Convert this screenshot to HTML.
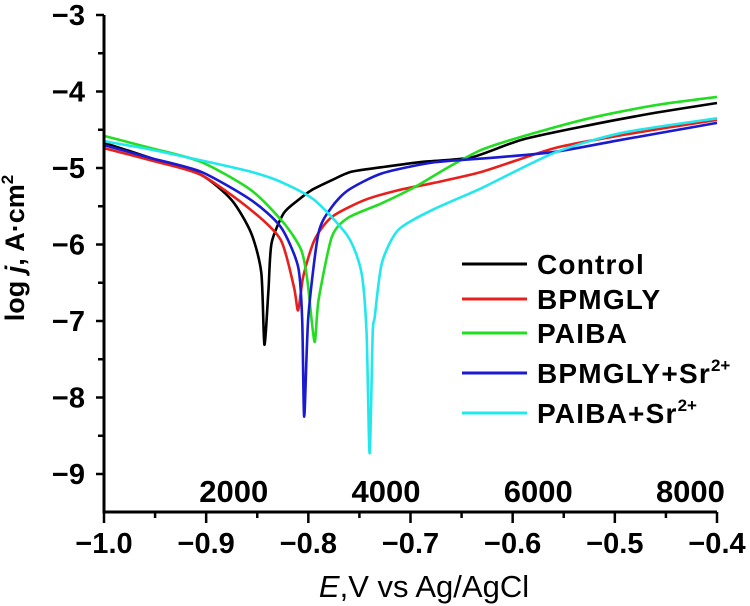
<!DOCTYPE html>
<html><head><meta charset="utf-8"><style>
body{margin:0;background:#fff;}
svg{display:block;font-family:"Liberation Sans",Arial,sans-serif;font-weight:bold;}
</style></head><body>
<svg id="chart" width="750" height="606" viewBox="0 0 750 606"></svg>
<script>
const xTicks=[-1.0,-0.9,-0.8,-0.7,-0.6,-0.5,-0.4];
const yTicks=[-3,-4,-5,-6,-7,-8,-9];
const topLabels=["2000","4000","6000","8000"];
const seriesNames=["Control","BPMGLY","PAIBA","BPMGLY+Sr","PAIBA+Sr"];
const seriesColors=["#000000","#e8201c","#22dd22","#1a1ad0","#22e8ee"];
const controlE=[-1.0,-0.954,-0.905,-0.875,-0.856,-0.846,-0.843,-0.839,-0.836,-0.824,-0.810,-0.797,-0.777,-0.758,-0.728,-0.689,-0.640,-0.591,-0.525,-0.461,-0.4];
const controlJ=[-4.67,-4.87,-5.09,-5.42,-5.85,-6.37,-7.31,-6.59,-5.98,-5.59,-5.42,-5.29,-5.16,-5.05,-4.99,-4.92,-4.86,-4.63,-4.44,-4.28,-4.15];
const bpmglyE=[-1.0,-0.954,-0.905,-0.856,-0.827,-0.814,-0.810,-0.805,-0.794,-0.777,-0.745,-0.712,-0.679,-0.630,-0.559,-0.493,-0.4];
const bpmglyJ=[-4.74,-4.90,-5.09,-5.55,-5.94,-6.56,-6.86,-6.42,-5.94,-5.64,-5.42,-5.29,-5.20,-5.05,-4.74,-4.57,-4.37];
const paibaE=[-1.0,-0.954,-0.905,-0.856,-0.824,-0.807,-0.801,-0.794,-0.790,-0.777,-0.761,-0.728,-0.696,-0.663,-0.630,-0.591,-0.525,-0.461,-0.4];
const paibaJ=[-4.58,-4.74,-4.92,-5.29,-5.72,-6.07,-6.46,-7.27,-6.73,-5.90,-5.65,-5.46,-5.25,-4.99,-4.76,-4.59,-4.35,-4.18,-4.07];
const bsrE=[-1.0,-0.954,-0.905,-0.856,-0.827,-0.810,-0.806,-0.804,-0.800,-0.790,-0.777,-0.761,-0.728,-0.679,-0.624,-0.559,-0.493,-0.4];
const bsrJ=[-4.70,-4.87,-5.05,-5.42,-5.77,-6.29,-6.99,-8.25,-6.95,-5.85,-5.51,-5.29,-5.07,-4.93,-4.87,-4.79,-4.63,-4.41];
const psrE=[-1.0,-0.954,-0.905,-0.856,-0.827,-0.794,-0.761,-0.748,-0.743,-0.740,-0.737,-0.735,-0.728,-0.712,-0.679,-0.630,-0.559,-0.493,-0.4];
const psrJ=[-4.65,-4.76,-4.90,-5.05,-5.18,-5.42,-5.90,-6.37,-7.16,-8.73,-7.16,-6.95,-6.24,-5.81,-5.55,-5.26,-4.80,-4.54,-4.35];
const topLabelE=[-0.873,-0.724,-0.575,-0.426];
const allE=[controlE,bpmglyE,paibaE,bsrE,psrE];
const allJ=[controlJ,bpmglyJ,paibaJ,bsrJ,psrJ];

const X0=104,X1=717,YT=15,PPU=76.5,YB=512;
const xs=v=>X0+(v+1.0)/0.6*(X1-X0);
const ys=v=>YT+(-3-v)*PPU;
const svg=document.getElementById('chart');
const NS='http://www.w3.org/2000/svg';
function mk(tag,attrs,parent){const e=document.createElementNS(NS,tag);for(const k in attrs)e.setAttribute(k,attrs[k]);(parent||svg).appendChild(e);return e;}
function smooth(pts){
  let d='M'+pts[0][0].toFixed(1)+' '+pts[0][1].toFixed(1);
  for(let i=0;i<pts.length-1;i++){
    const p0=pts[Math.max(0,i-1)],p1=pts[i],p2=pts[i+1],p3=pts[Math.min(pts.length-1,i+2)];
    const t=0.12;
    const c1=[p1[0]+(p2[0]-p0[0])*t,p1[1]+(p2[1]-p0[1])*t];
    const c2=[p2[0]-(p3[0]-p1[0])*t,p2[1]-(p3[1]-p1[1])*t];
    d+=` C${c1[0].toFixed(1)} ${c1[1].toFixed(1)} ${c2[0].toFixed(1)} ${c2[1].toFixed(1)} ${p2[0].toFixed(1)} ${p2[1].toFixed(1)}`;
  }
  return d;
}
allE.forEach((E,i)=>{
  const pts=E.map((e,k)=>[xs(e),ys(allJ[i][k])]);
  const p=mk('path',{d:smooth(pts),fill:'none',stroke:seriesColors[i],'stroke-width':2.6,'stroke-linejoin':'round'});
  
  
});
const ax=mk('path',{d:`M${X0} ${YT} V${YB} H${X1}`,fill:'none',stroke:'#000','stroke-width':3});


for(let k=0;k<=12;k++){const v=-1+k*0.05;const major=k%2===0;
  mk('line',{x1:xs(v),x2:xs(v),y1:YB,y2:YB+(major?11:6),stroke:'#000','stroke-width':2.5});}
xTicks.forEach(v=>{const t=mk('text',{x:xs(v),y:YB+41,'text-anchor':'middle','font-size':29});t.textContent=v.toFixed(1).replace('-','−');
  
  });
for(let k=0;k<=13;k++){const v=-3-k*0.5;if(ys(v)>YB)break;const major=k%2===0;
  mk('line',{x1:X0,x2:X0-(major?8:6),y1:ys(v),y2:ys(v),stroke:'#000','stroke-width':2.5});}
yTicks.forEach(v=>{const t=mk('text',{x:X0-19,y:ys(v)+10,'text-anchor':'end','font-size':29});t.textContent=String(v).replace('-','−');
  
  });
topLabels.forEach((s,i)=>{const t=mk('text',{x:xs(topLabelE[i]),y:502,'text-anchor':'middle','font-size':31});t.textContent=s;
  
  });
const xt=mk('text',{x:424,y:597,'text-anchor':'middle','font-size':31,'font-weight':'normal'});
xt.innerHTML='<tspan font-style="italic">E</tspan>,V vs Ag/AgCl';


const yt=mk('text',{x:0,y:0,'text-anchor':'middle','font-size':27,transform:'translate(24,248) rotate(-90)'});
yt.innerHTML='log <tspan font-style="italic">j</tspan>, A·cm<tspan font-size="17" dy="-11">2</tspan>';


const legendRows=[264,299,333,373,413];
const lg=mk('g',{});


seriesNames.forEach((n,i)=>{const y=legendRows[i];
  mk('line',{x1:462,x2:527,y1:y,y2:y,stroke:seriesColors[i],'stroke-width':3},lg);
  const t=mk('text',{x:537,y:y+10,'font-size':28,'letter-spacing':1.2},lg);
  t.innerHTML=n+(n.endsWith('Sr')?'<tspan font-size="17" dy="-12" letter-spacing="0">2+</tspan>':'');
  
  
});
</script>
</body></html>
